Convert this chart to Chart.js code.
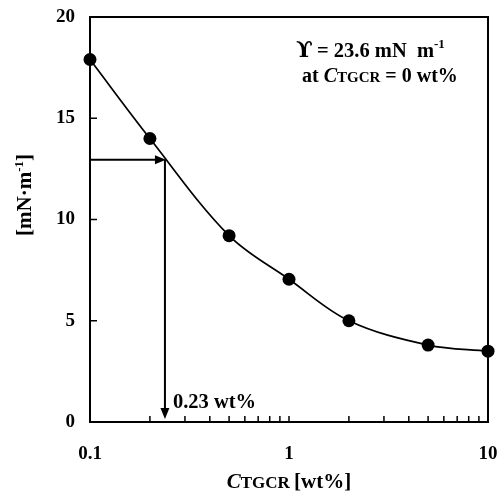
<!DOCTYPE html>
<html>
<head>
<meta charset="utf-8">
<script src="https://cdn.jsdelivr.net/npm/chart.js@4.4.1/dist/chart.umd.min.js"></script>
<style>
  html, body { margin: 0; padding: 0; background: #fff; }
  #wrap { width: 498px; height: 496px; }
</style>
</head>
<body>
<div id="wrap"><canvas id="chartId" width="498" height="496"></canvas></div>
<script>
// data
const concentrations = [0.1, 0.2, 0.5, 1, 2, 5, 10];        // C_TGCR [wt%]
const tensions = [17.9, 14.0, 9.2, 7.05, 5.0, 3.8, 3.5];     // [mN·m-1]
const xTickLabels = ['0.1', '1', '10'];
const yTickLabels = ['0', '5', '10', '15', '20'];
const markX = 0.238;   // the 0.23 wt% reading
const markY = 12.95;

const FONT = 'Liberation Serif';
Chart.defaults.font.family = FONT;
Chart.defaults.font.weight = 'bold';
Chart.defaults.font.size = 19;
Chart.defaults.color = '#000';

function arrowHead(ctx, x, y, dir) {
  // dir: 'right' or 'down'
  ctx.beginPath();
  if (dir == 'right') {
    ctx.moveTo(x, y);
    ctx.lineTo(x - 11, y - 4.5);
    ctx.lineTo(x - 11, y + 4.5);
  } else {
    ctx.moveTo(x, y);
    ctx.lineTo(x - 4.5, y - 11);
    ctx.lineTo(x + 4.5, y - 11);
  }
  ctx.closePath();
  ctx.fill();
}

const extras = {
  id: 'extras',
  afterDraw(chart) {
    const ctx = chart.ctx;
    const a = chart.chartArea;
    const xs = chart.scales.x, ys = chart.scales.y;
    ctx.save();
    ctx.strokeStyle = '#000';
    ctx.fillStyle = '#000';

    // frame
    ctx.lineWidth = 2;
    ctx.strokeRect(a.left, a.top, a.right - a.left, a.bottom - a.top);

    // inward tick marks
    ctx.lineWidth = 1.5;
    ctx.beginPath();
    xs.ticks.forEach(t => {
      const px = xs.getPixelForValue(t.value);
      ctx.moveTo(px, a.bottom);
      ctx.lineTo(px, a.bottom - 6);
    });
    ys.ticks.forEach(t => {
      const py = ys.getPixelForValue(t.value);
      ctx.moveTo(a.left, py);
      ctx.lineTo(a.left + 7, py);
    });
    ctx.stroke();

    // arrows
    const ax = xs.getPixelForValue(markX);
    const ay = ys.getPixelForValue(markY);
    const ab = ys.getPixelForValue(0);
    ctx.lineWidth = 2;
    ctx.beginPath();
    ctx.moveTo(a.left, ay);
    ctx.lineTo(ax - 6, ay);
    ctx.moveTo(ax, ay);
    ctx.lineTo(ax, ab - 8);
    ctx.stroke();
    arrowHead(ctx, ax + 1, ay, 'right');
    arrowHead(ctx, ax, ab - 3, 'down');

    ctx.textBaseline = 'alphabetic';
    ctx.textAlign = 'left';
    ctx.font = 'bold 20.5px ' + FONT;
    ctx.fillText('0.23 wt%', ax + 8, ab - 14);

    // annotation top right
    let x = 298, y = 57;
    ctx.font = 'bold 22px "DejaVu Serif"';
    ctx.fillText('\u03D2', x - 2, y);
    x += 19;
    ctx.font = 'bold 20.5px ' + FONT;
    let s = '= 23.6 mN  m';
    ctx.fillText(s, x, y);
    x += ctx.measureText(s).width;
    ctx.font = 'bold 13px ' + FONT;
    ctx.fillText('-1', x, y - 9);

    x = 302; y = 82;
    ctx.font = 'bold 20px ' + FONT;
    s = 'at ';
    ctx.fillText(s, x, y);
    x += ctx.measureText(s).width;
    ctx.font = 'italic bold 20px ' + FONT;
    ctx.fillText('C', x, y);
    x += ctx.measureText('C').width;
    ctx.font = 'bold 15px ' + FONT;
    ctx.fillText('TGCR', x, y);
    x += ctx.measureText('TGCR').width;
    ctx.font = 'bold 20px ' + FONT;
    ctx.fillText(' = 0 wt%', x, y);

    // x axis title
    ctx.font = 'italic bold 21px ' + FONT;
    const w1 = ctx.measureText('C').width;
    ctx.font = 'bold 17px ' + FONT;
    const w2 = ctx.measureText('TGCR ').width;
    ctx.font = 'bold 21px ' + FONT;
    const w3 = ctx.measureText('[wt%]').width;
    x = (a.left + a.right) / 2 - (w1 + w2 + w3) / 2;
    y = 488;
    ctx.font = 'italic bold 21px ' + FONT;
    ctx.fillText('C', x, y);
    ctx.font = 'bold 17px ' + FONT;
    ctx.fillText('TGCR ', x + w1, y);
    ctx.font = 'bold 21px ' + FONT;
    ctx.fillText('[wt%]', x + w1 + w2, y);

    // y axis title, rotated
    ctx.translate(31, 195);
    ctx.rotate(-Math.PI / 2);
    const p1 = '[mN\u00B7m', p3 = ']';
    ctx.font = 'bold 13px ' + FONT;
    const sw = ctx.measureText('-1').width;
    ctx.font = 'bold 21px ' + FONT;
    const tw = ctx.measureText(p1).width + sw + ctx.measureText(p3).width;
    let tx = -tw / 2;
    ctx.fillText(p1, tx, 0);
    tx += ctx.measureText(p1).width;
    ctx.font = 'bold 13px ' + FONT;
    ctx.fillText('-1', tx, -8);
    tx += sw;
    ctx.font = 'bold 21px ' + FONT;
    ctx.fillText(p3, tx, 0);

    ctx.restore();
  }
};

const chrt = document.getElementById('chartId').getContext('2d');
window.tensionChart = new Chart(chrt, {
  type: 'line',
  data: {
    datasets: [{
      label: 'surface tension',
      data: concentrations.map((c, i) => ({ x: c, y: tensions[i] })),
      borderColor: '#000',
      borderWidth: 1.7,
      backgroundColor: '#000',
      pointBackgroundColor: '#000',
      pointBorderWidth: 0,
      pointRadius: 6.5,
      tension: 0.35,
      clip: false
    }]
  },
  options: {
    responsive: false,
    animation: false,
    layout: { padding: { top: 17, right: 10, left: 0, bottom: 0 } },
    plugins: { legend: { display: false }, tooltip: { enabled: false } },
    scales: {
      x: {
        type: 'logarithmic',
        min: 0.1,
        max: 10,
        grid: { display: false, drawTicks: false },
        border: { display: false },
        afterBuildTicks: (scale) => {
          const t = [];
          [0.1, 1].forEach(d => {
            for (let m = 1; m < 10; m++) t.push({ value: +(d * m).toFixed(2) });
          });
          t.push({ value: 10 });
          scale.ticks = t;
        },
        afterFit: (scale) => {
          scale.height = 74;
          scale.paddingLeft = 0;
          scale.paddingRight = 0;
        },
        ticks: {
          autoSkip: false,
          maxRotation: 0,
          padding: 21,
          callback: (v) => {
            const lbl = String(v);
            return xTickLabels.includes(lbl) ? lbl : '';
          }
        }
      },
      y: {
        min: 0,
        max: 20,
        grid: { display: false, drawTicks: false },
        border: { display: false },
        afterFit: (scale) => {
          scale.width = 90;
          scale.paddingTop = 0;
          scale.paddingBottom = 0;
        },
        ticks: {
          stepSize: 5,
          padding: 15,
          callback: (v) => yTickLabels.includes(String(v)) ? String(v) : ''
        }
      }
    }
  },
  plugins: [extras]
});
</script>
</body>
</html>
